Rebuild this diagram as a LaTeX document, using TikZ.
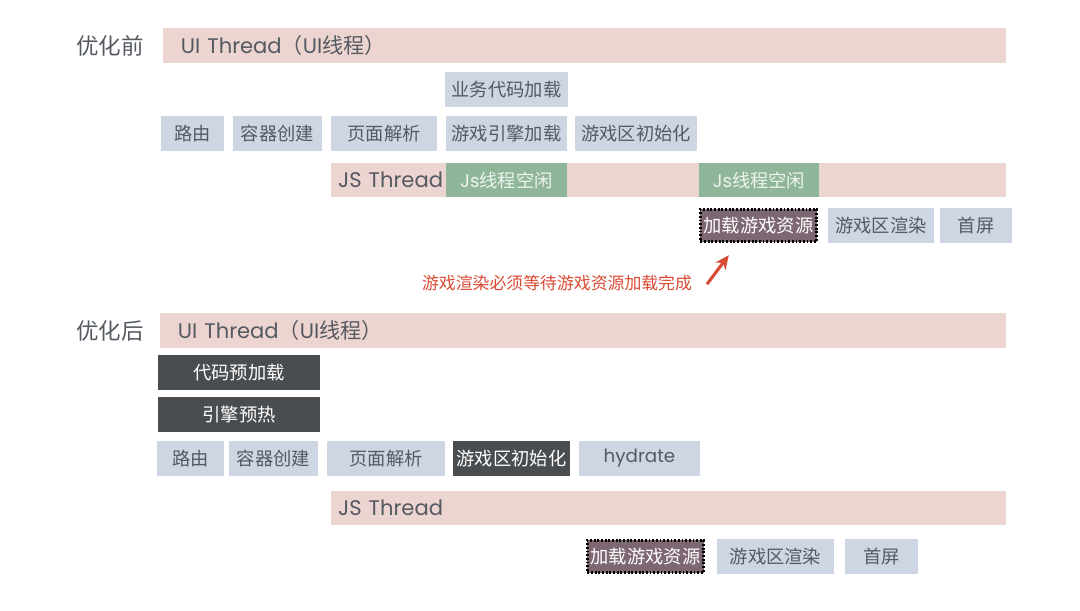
\documentclass[tikz,border=0pt]{standalone}
\usepackage{fontspec}
\setmainfont{Poppins}
\newfontfamily\lat{Poppins}
\newfontfamily\cjk{Noto Sans CJK SC}
\usetikzlibrary{arrows.meta}

\definecolor{threadpink}{RGB}{236,212,208}
\definecolor{taskblue}{RGB}{205,214,226}
\definecolor{idlegreen}{RGB}{143,182,152}
\definecolor{prepdark}{RGB}{74,77,80}
\definecolor{respurple}{RGB}{125,103,115}
\definecolor{textgray}{RGB}{85,90,98}
\definecolor{notered}{RGB}{217,74,51}

\begin{document}
\begin{tikzpicture}[
            x=0.025cm, y=-0.025cm,
            phase/.style={
                font=\cjk\fontsize{16}{18}\selectfont,
                text=textgray
            },
            bar/.style={
                fill=threadpink,
                minimum height=0.86cm,
                inner xsep=0.45cm,
                align=left,
                font=\fontsize{15}{18}\selectfont,
                text=textgray
            },
            jsbar/.style={bar, inner xsep=0.18cm},
            task/.style={
                fill=taskblue,
                minimum height=0.875cm,
                inner sep=0pt,
                font=\cjk\fontsize{13}{15}\selectfont,
                text=textgray
            },
            idle/.style={task, fill=idlegreen, text=white!85!idlegreen},
            prep/.style={task, fill=prepdark, text=white},
            resload/.style={
                task,
                fill=respurple,
                text=white,
                draw=black,
                dash pattern=on 1.3pt off 1.3pt,
                line width=2.4pt
            },
            note/.style={
                font=\cjk\fontsize{12}{14}\selectfont,
                text=notered
            }
        ]
            \useasboundingbox (0,0) rectangle (1080,611);

            % before
            \node[phase] (pre) at (110, 46) {优化前};
            \node[bar, text width=20.175cm] (ui1) at (584.5, 45.5)
                {UI Thread{\cjk（}UI{\cjk 线程）}};

            \node[task, minimum width=3.075cm] (biz1) at (506.5, 89.5) {业务代码加载};

            \node[task, minimum width=1.575cm] (route1) at (192.5, 133.5) {路由};
            \node[task, minimum width=2.225cm] (cont1) at (277.5, 133.5) {容器创建};
            \node[task, minimum width=2.65cm] (page1) at (384, 133.5) {页面解析};
            \node[task, minimum width=3.025cm] (eng1) at (506.5, 133.5) {游戏引擎加载};
            \node[task, minimum width=3.05cm] (init1) at (636, 133.5) {游戏区初始化};

            \node[jsbar, text width=16.515cm] (js1) at (668.5, 180) {JS Thread};
            \node[idle, minimum width=3.025cm, minimum height=0.85cm] (idle1) at (506.5, 180)
                {{\lat Js}线程空闲};
            \node[idle, minimum width=3cm, minimum height=0.85cm] (idle2) at (759, 180)
                {{\lat Js}线程空闲};

            \node[resload, minimum width=2.9cm, minimum height=0.8cm] (res1) at (758.5, 225.5) {加载游戏资源};
            \node[task, minimum width=2.65cm] (rend1) at (881, 225.5) {游戏区渲染};
            \node[task, minimum width=1.8cm] (fs1) at (976, 225.5) {首屏};

            \node[note] (wait) at (557, 283) {游戏渲染必须等待游戏资源加载完成};
            \draw[-{Stealth[length=10pt, width=9pt]}, notered, line width=2.2pt]
                ([xshift=0.25cm, yshift=-0.03cm]wait.east)
                -- ([xshift=0.75cm, yshift=-0.3cm]res1.south west);

            % after
            \node[phase] (post) at (110, 331) {优化后};
            \node[bar, text width=20.25cm] (ui2) at (583, 330.5)
                {UI Thread{\cjk（}UI{\cjk 线程）}};

            \node[prep, minimum width=4.05cm] (code2) at (239, 372.5) {代码预加载};
            \node[prep, minimum width=4.05cm] (warm2) at (239, 414.5) {引擎预热};

            \node[task, minimum width=1.675cm] (route2) at (190.5, 458.5) {路由};
            \node[task, minimum width=2.225cm] (cont2) at (273.5, 458.5) {容器创建};
            \node[task, minimum width=2.95cm] (page2) at (386, 458.5) {页面解析};
            \node[prep, minimum width=2.925cm] (init2) at (511.5, 458.5) {游戏区初始化};
            \node[task, minimum width=3.025cm] (hyd2) at (639.5, 458.5) {{\lat hydrate}};

            \node[jsbar, text width=16.515cm] (js2) at (668.5, 508) {JS Thread};

            \node[resload, minimum width=2.9cm, minimum height=0.8cm] (res2) at (645.5, 556.5) {加载游戏资源};
            \node[task, minimum width=2.925cm] (rend2) at (775.5, 556.5) {游戏区渲染};
            \node[task, minimum width=1.825cm] (fs2) at (881.5, 556.5) {首屏};

        \end{tikzpicture}
\end{document}
